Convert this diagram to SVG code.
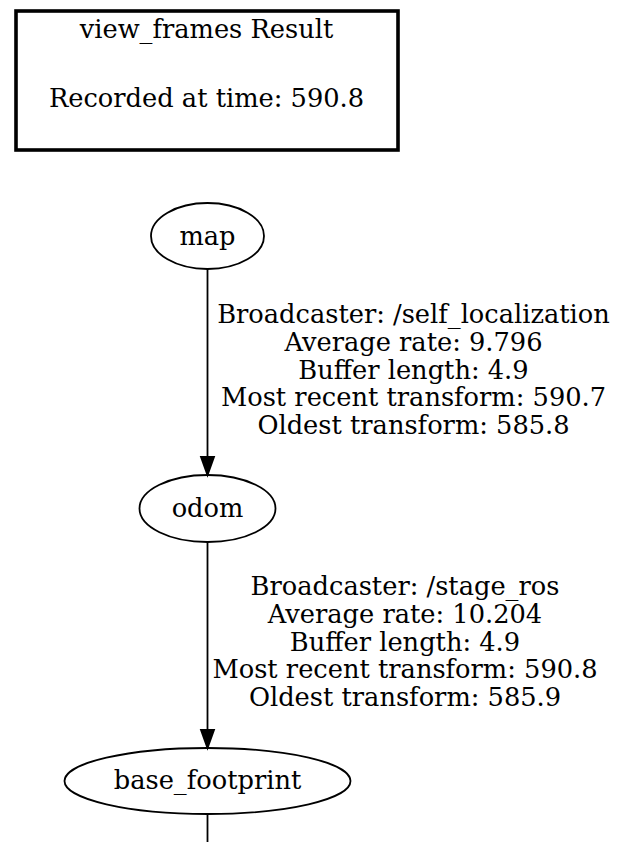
<svg xmlns="http://www.w3.org/2000/svg" width="627" height="842" viewBox="0 0 627 842">
<style>
text{font-family:"DejaVu Serif","Liberation Serif",serif;font-size:25.7px;fill:#000;text-anchor:middle}
.n{fill:none;stroke:#000;stroke-width:1.8}
.e{fill:none;stroke:#000;stroke-width:1.8}
.ah{fill:#000;stroke:#000;stroke-width:1.8}
</style>
<rect width="627" height="842" fill="#fff"/>
<g id="legend">
<rect x="16" y="11" width="382" height="139" fill="none" stroke="#000" stroke-width="3.6"/>
<text x="206.5" y="38">view_frames Result</text>
<text x="206.5" y="107">Recorded at time: 590.8</text>
</g>
<g id="connectors">
<g id="edge-map-odom">
<path class="e" d="M207.5,269 V457"/>
<polygon class="ah" points="201,457 214,457 207.5,475"/>
<text x="413.5" y="323">Broadcaster: /self_localization</text>
<text x="413.5" y="350.8">Average rate: 9.796</text>
<text x="413.5" y="378.6">Buffer length: 4.9</text>
<text x="413.5" y="406.4">Most recent transform: 590.7</text>
<text x="413.5" y="434.2">Oldest transform: 585.8</text>
</g>
<g id="edge-odom-base">
<path class="e" d="M207.5,542 V730"/>
<polygon class="ah" points="201,730 214,730 207.5,748"/>
<text x="405" y="595">Broadcaster: /stage_ros</text>
<text x="405" y="622.8">Average rate: 10.204</text>
<text x="405" y="650.6">Buffer length: 4.9</text>
<text x="405" y="678.4">Most recent transform: 590.8</text>
<text x="405" y="706.2">Oldest transform: 585.9</text>
</g>
<path id="edge-base-out" class="e" d="M207.5,814 V842"/>
</g>
<g id="node-map">
<ellipse class="n" cx="207.5" cy="236" rx="56.5" ry="33"/>
<text x="207.5" y="244.5">map</text>
</g>
<g id="node-odom">
<ellipse class="n" cx="207.5" cy="508.5" rx="68" ry="33.5"/>
<text x="207.5" y="516.5">odom</text>
</g>
<g id="node-base_footprint">
<ellipse class="n" cx="207.5" cy="781" rx="143" ry="33"/>
<text x="207.5" y="788.5">base_footprint</text>
</g>
</svg>
